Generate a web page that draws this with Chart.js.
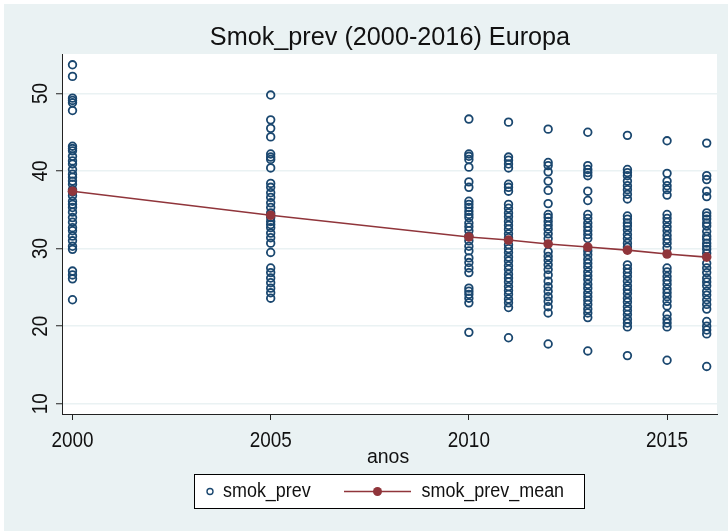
<!DOCTYPE html>
<html>
<head>
<meta charset="utf-8">
<script src="https://cdn.jsdelivr.net/npm/chart.js@4/dist/chart.umd.min.js"></script>
<style>
  html, body { margin: 0; padding: 0; background: #ffffff; }
  #wrap { width: 728px; height: 531px; }
</style>
</head>
<body>
<div id="wrap"><canvas id="c" width="728" height="531"></canvas></div>
<script>
// Smoking prevalence by country, Europe, 2000-2016
const years = [2000, 2005, 2010, 2011, 2012, 2013, 2014, 2015, 2016];

const prev2000 = [53.7, 52.2, 49.4, 49.1, 48.8, 47.8, 43.2, 42.9, 42.6, 41.9, 41.3, 40.9, 40.2, 39.6, 39.2, 38.7, 38.3, 37.6, 37.3, 36.8, 36.1, 35.7, 35.3, 34.7, 34.0, 33.4, 32.7, 32.3, 31.6, 31.0, 30.3, 29.9, 27.1, 26.6, 26.1, 23.4];
const prev2005 = [49.8, 46.6, 45.5, 44.4, 42.2, 41.8, 41.5, 40.4, 38.4, 37.9, 37.2, 36.6, 35.9, 35.3, 34.6, 34.0, 33.5, 33.1, 32.7, 32.0, 31.4, 30.7, 29.5, 27.5, 26.9, 26.2, 25.6, 24.9, 24.3, 23.6];
const prev2010 = [46.7, 42.2, 41.9, 41.5, 40.5, 38.6, 37.9, 36.1, 35.7, 35.3, 34.8, 34.4, 34.0, 33.3, 32.8, 32.3, 31.6, 31.0, 30.3, 29.7, 28.8, 28.2, 27.5, 26.9, 24.9, 24.5, 24.1, 23.6, 23.0, 19.2];
const prev2011 = [46.3, 41.8, 41.4, 40.9, 40.4, 38.3, 37.9, 37.4, 35.7, 35.2, 34.6, 34.1, 33.5, 33.0, 32.5, 31.9, 31.4, 30.5, 30.0, 29.5, 28.9, 28.4, 27.8, 27.3, 26.7, 26.2, 25.7, 25.1, 24.6, 24.1, 23.5, 23.0, 22.4, 18.5];
const prev2012 = [45.4, 41.1, 40.7, 39.9, 38.7, 37.5, 35.8, 34.4, 34.0, 33.5, 33.0, 32.5, 31.9, 31.3, 29.6, 29.0, 28.5, 27.9, 27.3, 26.6, 25.8, 25.1, 24.5, 23.8, 23.2, 22.5, 21.7, 17.7];
const prev2013 = [45.0, 40.7, 40.2, 39.8, 39.4, 37.4, 36.2, 34.4, 33.9, 33.3, 32.8, 32.3, 31.8, 31.3, 29.7, 29.2, 28.6, 28.1, 27.6, 27.0, 26.5, 26.0, 25.4, 24.9, 24.3, 23.8, 23.3, 22.8, 22.2, 21.7, 21.1, 16.8];
const prev2014 = [44.6, 40.2, 39.8, 39.4, 38.7, 38.1, 37.6, 37.0, 36.4, 34.2, 33.8, 33.3, 32.9, 32.4, 31.8, 31.3, 30.7, 30.2, 27.9, 27.4, 26.9, 26.4, 25.8, 25.2, 24.7, 24.2, 23.6, 23.1, 22.5, 22.0, 21.5, 20.9, 20.4, 19.9, 16.2];
const prev2015 = [43.9, 39.7, 38.7, 38.1, 37.6, 36.9, 34.4, 33.9, 33.4, 32.8, 32.3, 31.7, 31.2, 30.7, 30.1, 27.5, 27.0, 26.4, 25.9, 25.4, 24.8, 24.3, 23.8, 23.2, 22.6, 21.5, 20.9, 20.4, 19.9, 15.6];
const prev2016 = [43.6, 39.4, 38.9, 37.4, 36.7, 34.6, 34.2, 33.8, 33.3, 32.9, 32.2, 31.6, 31.2, 30.7, 30.3, 29.9, 29.4, 28.1, 27.5, 26.9, 26.2, 25.7, 25.2, 24.5, 24.0, 23.4, 22.8, 22.2, 20.6, 20.0, 19.5, 19.0, 14.8];

// yearly mean prevalence
const prevMean = [37.4, 34.3, 31.5, 31.1, 30.6, 30.2, 29.8, 29.3, 28.9];

const xTicks = [2000, 2005, 2010, 2015];
const yTicks = [10, 20, 30, 40, 50];

const prevByYear = [prev2000, prev2005, prev2010, prev2011, prev2012, prev2013, prev2014, prev2015, prev2016];
const scatterPoints = [];
prevByYear.forEach((vals, i) => vals.forEach(v => scatterPoints.push({ x: years[i], y: v })));
const meanPoints = years.map((yr, i) => ({ x: yr, y: prevMean[i] }));

const NAVY = '#1a476f';
const MAROON = '#90353b';
const BG = '#eaf2f3';
const INK = '#111111';
const FONT = '"Liberation Sans", Arial, Helvetica, sans-serif';

// text drawn slightly condensed, the way the graph engine renders its labels
function condensedText(ctx, text, x, y, size, sx, align) {
  ctx.save();
  ctx.translate(x, y);
  ctx.scale(sx, 1);
  ctx.font = size + 'px ' + FONT;
  ctx.textAlign = align || 'center';
  ctx.textBaseline = 'middle';
  ctx.fillText(text, 0, 0);
  ctx.restore();
}

const decor = {
  id: 'decor',
  beforeDraw(chart) {
    const { ctx, chartArea: a } = chart;
    ctx.save();
    ctx.fillStyle = '#ffffff';
    ctx.fillRect(0, 0, chart.width, chart.height);
    ctx.fillStyle = BG;
    ctx.fillRect(4, 4, chart.width - 4, chart.height - 4);
    ctx.fillStyle = '#ffffff';
    ctx.fillRect(a.left, a.top, a.right - a.left, a.bottom - a.top);
    ctx.restore();
  },
  afterDraw(chart) {
    const { ctx } = chart;
    const xs = chart.scales.x;
    const ys = chart.scales.y;
    ctx.save();
    ctx.fillStyle = INK;

    // title
    condensedText(ctx, 'Smok_prev (2000-2016) Europa', 390, 38, 26, 0.97);

    // x tick labels
    xTicks.forEach(v => {
      condensedText(ctx, String(v), xs.getPixelForValue(v), 441, 21.5, 0.88);
    });

    // y tick labels, rotated to read upward
    yTicks.forEach(v => {
      const py = ys.getPixelForValue(v);
      ctx.save();
      ctx.translate(41, py);
      ctx.rotate(-Math.PI / 2);
      condensedText(ctx, String(v), 0, 0, 21.5, 0.88);
      ctx.restore();
    });

    // x axis title
    condensedText(ctx, 'anos', 388, 457, 20.5, 0.95);

    // legend
    const lx = 194.5, ly = 474.5, lw = 390, lh = 34, cy = ly + lh / 2;
    ctx.fillStyle = '#ffffff';
    ctx.fillRect(lx, ly, lw, lh);
    ctx.strokeStyle = '#000000';
    ctx.lineWidth = 1;
    ctx.strokeRect(lx, ly, lw, lh);

    const ds = chart.data.datasets;
    ctx.strokeStyle = ds[1].pointBorderColor;
    ctx.lineWidth = 1.4;
    ctx.beginPath();
    ctx.arc(210, cy, 3, 0, Math.PI * 2);
    ctx.stroke();

    ctx.strokeStyle = ds[0].borderColor;
    ctx.lineWidth = 1.5;
    ctx.beginPath();
    ctx.moveTo(344, cy);
    ctx.lineTo(411, cy);
    ctx.stroke();
    ctx.fillStyle = ds[0].pointBackgroundColor;
    ctx.beginPath();
    ctx.arc(377.5, cy, 4.5, 0, Math.PI * 2);
    ctx.fill();

    ctx.fillStyle = INK;
    condensedText(ctx, ds[1].label, 223, cy, 19.5, 0.92, 'left');
    condensedText(ctx, ds[0].label, 421.5, cy, 19.5, 0.92, 'left');
    ctx.restore();
  }
};

new Chart(document.getElementById('c'), {
  type: 'scatter',
  data: {
    datasets: [
      {
        label: 'smok_prev_mean',
        type: 'line',
        data: meanPoints,
        order: 0,
        showLine: true,
        borderColor: MAROON,
        borderWidth: 1.6,
        pointBackgroundColor: MAROON,
        pointBorderColor: MAROON,
        pointRadius: 4.8,
        pointBorderWidth: 0,
        tension: 0,
        fill: false
      },
      {
        label: 'smok_prev',
        data: scatterPoints,
        order: 1,
        showLine: false,
        borderColor: NAVY,
        backgroundColor: 'rgba(0,0,0,0)',
        pointBorderColor: NAVY,
        pointBackgroundColor: 'rgba(0,0,0,0)',
        pointRadius: 3.8,
        pointBorderWidth: 1.8
      }
    ]
  },
  plugins: [decor],
  options: {
    responsive: false,
    animation: false,
    events: [],
    layout: { padding: { left: 0, top: 54, right: 11, bottom: 0 } },
    plugins: {
      legend: { display: false },
      title: { display: false },
      tooltip: { enabled: false }
    },
    scales: {
      x: {
        type: 'linear',
        min: 1999.735,
        max: 2016.26,
        afterBuildTicks: s => { s.ticks = xTicks.map(v => ({ value: v })); },
        afterFit: s => { s.height = 531 - 414; },
        grid: { drawOnChartArea: false, drawTicks: true, tickLength: 6, tickColor: '#222222', tickWidth: 1 },
        border: { display: true, color: '#222222', width: 1 },
        ticks: { display: false }
      },
      y: {
        type: 'linear',
        min: 8.67,
        max: 55.09,
        afterBuildTicks: s => { s.ticks = yTicks.map(v => ({ value: v })); },
        afterFit: s => { s.width = 62; },
        grid: { color: BG, lineWidth: 1.5, drawTicks: true, tickLength: 6, tickColor: '#222222', tickWidth: 1 },
        border: { display: true, color: '#222222', width: 1 },
        ticks: { display: false }
      }
    }
  }
});
</script>
</body>
</html>
